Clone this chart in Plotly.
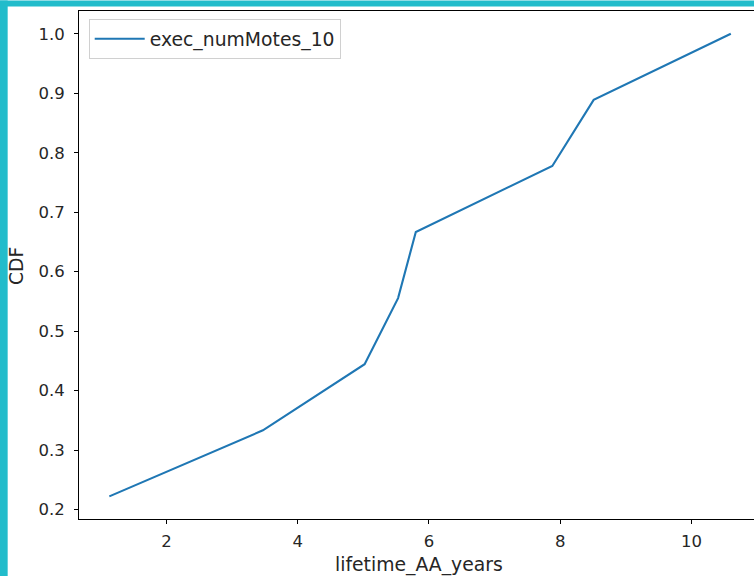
import plotly.graph_objects as go

# data
lifetime_years = [1.13, 3.47, 5.02, 5.53, 5.80, 7.88, 8.51, 10.60]
cdf_values = [0.2222, 0.3333, 0.4444, 0.5556, 0.6667, 0.7778, 0.8889, 1.0]
series_name = "exec_numMotes_10"
x_title = "lifetime_AA_years"
y_title = "CDF"
x_ticks = [2, 4, 6, 8, 10]
y_ticks = [0.2, 0.3, 0.4, 0.5, 0.6, 0.7, 0.8, 0.9, 1.0]
y_tick_labels = ["0.2", "0.3", "0.4", "0.5", "0.6", "0.7", "0.8", "0.9", "1.0"]

W, H = 754, 576
L, R, T, B = 79.3, 0, 10.5, 57.3
pw, ph = W - L - R, H - T - B

def px_x(p):
    return (p - L) / pw

def px_y(p):
    return 1 - (p - T) / ph

fig = go.Figure()
fig.add_trace(go.Scatter(
    x=lifetime_years, y=cdf_values, mode="lines", name=series_name,
    line=dict(color="#1f77b4", width=2.1),
))

tick_font = dict(family="DejaVu Sans", size=16.5, color="#262626")
big_font = dict(family="DejaVu Sans", size=18.8, color="#262626")
cyan = "#22bccb"
fig.update_layout(
    width=W, height=H,
    margin=dict(l=L, r=R, t=T, b=B, pad=0),
    paper_bgcolor="white", plot_bgcolor="white",
    font=tick_font,
    showlegend=True,
    legend=dict(x=px_x(89), y=px_y(18.5), xanchor="left", yanchor="top",
                bgcolor="white", bordercolor="#d0d0d0", borderwidth=1,
                itemwidth=50, font=big_font),
    xaxis=dict(range=[0.668, 10.953], tickvals=x_ticks, showgrid=False, zeroline=False,
               showline=True, linecolor="black", linewidth=1.1, mirror=True,
               ticks="outside", ticklen=4, tickcolor="black", tickfont=tick_font,
               ticklabelstandoff=3),
    yaxis=dict(range=[0.1842, 1.0383], tickvals=y_ticks, ticktext=y_tick_labels,
               showgrid=False, zeroline=False,
               showline=True, linecolor="black", linewidth=1.1,
               ticks="outside", ticklen=4, tickcolor="black", tickfont=tick_font,
               ticklabelstandoff=6),
    annotations=[
        dict(text=x_title, xref="paper", yref="paper", x=px_x(419.6), y=px_y(564.5),
             xanchor="center", yanchor="middle", showarrow=False, font=big_font),
        dict(text=y_title, xref="paper", yref="paper", x=px_x(17), y=px_y(266),
             xanchor="center", yanchor="middle", showarrow=False, textangle=-90, font=big_font),
    ],
    shapes=[
        dict(type="rect", xref="paper", yref="paper", x0=px_x(0), x1=px_x(8), y0=px_y(H), y1=px_y(0),
             fillcolor=cyan, line=dict(width=0), layer="above"),
        dict(type="rect", xref="paper", yref="paper", x0=px_x(0), x1=px_x(W), y0=px_y(6), y1=px_y(0),
             fillcolor=cyan, line=dict(width=0), layer="above"),
    ],
)
fig.write_html("out.html", config={"displayModeBar": False},
               post_script="document.body.style.margin='0';document.body.style.overflow='hidden';")
